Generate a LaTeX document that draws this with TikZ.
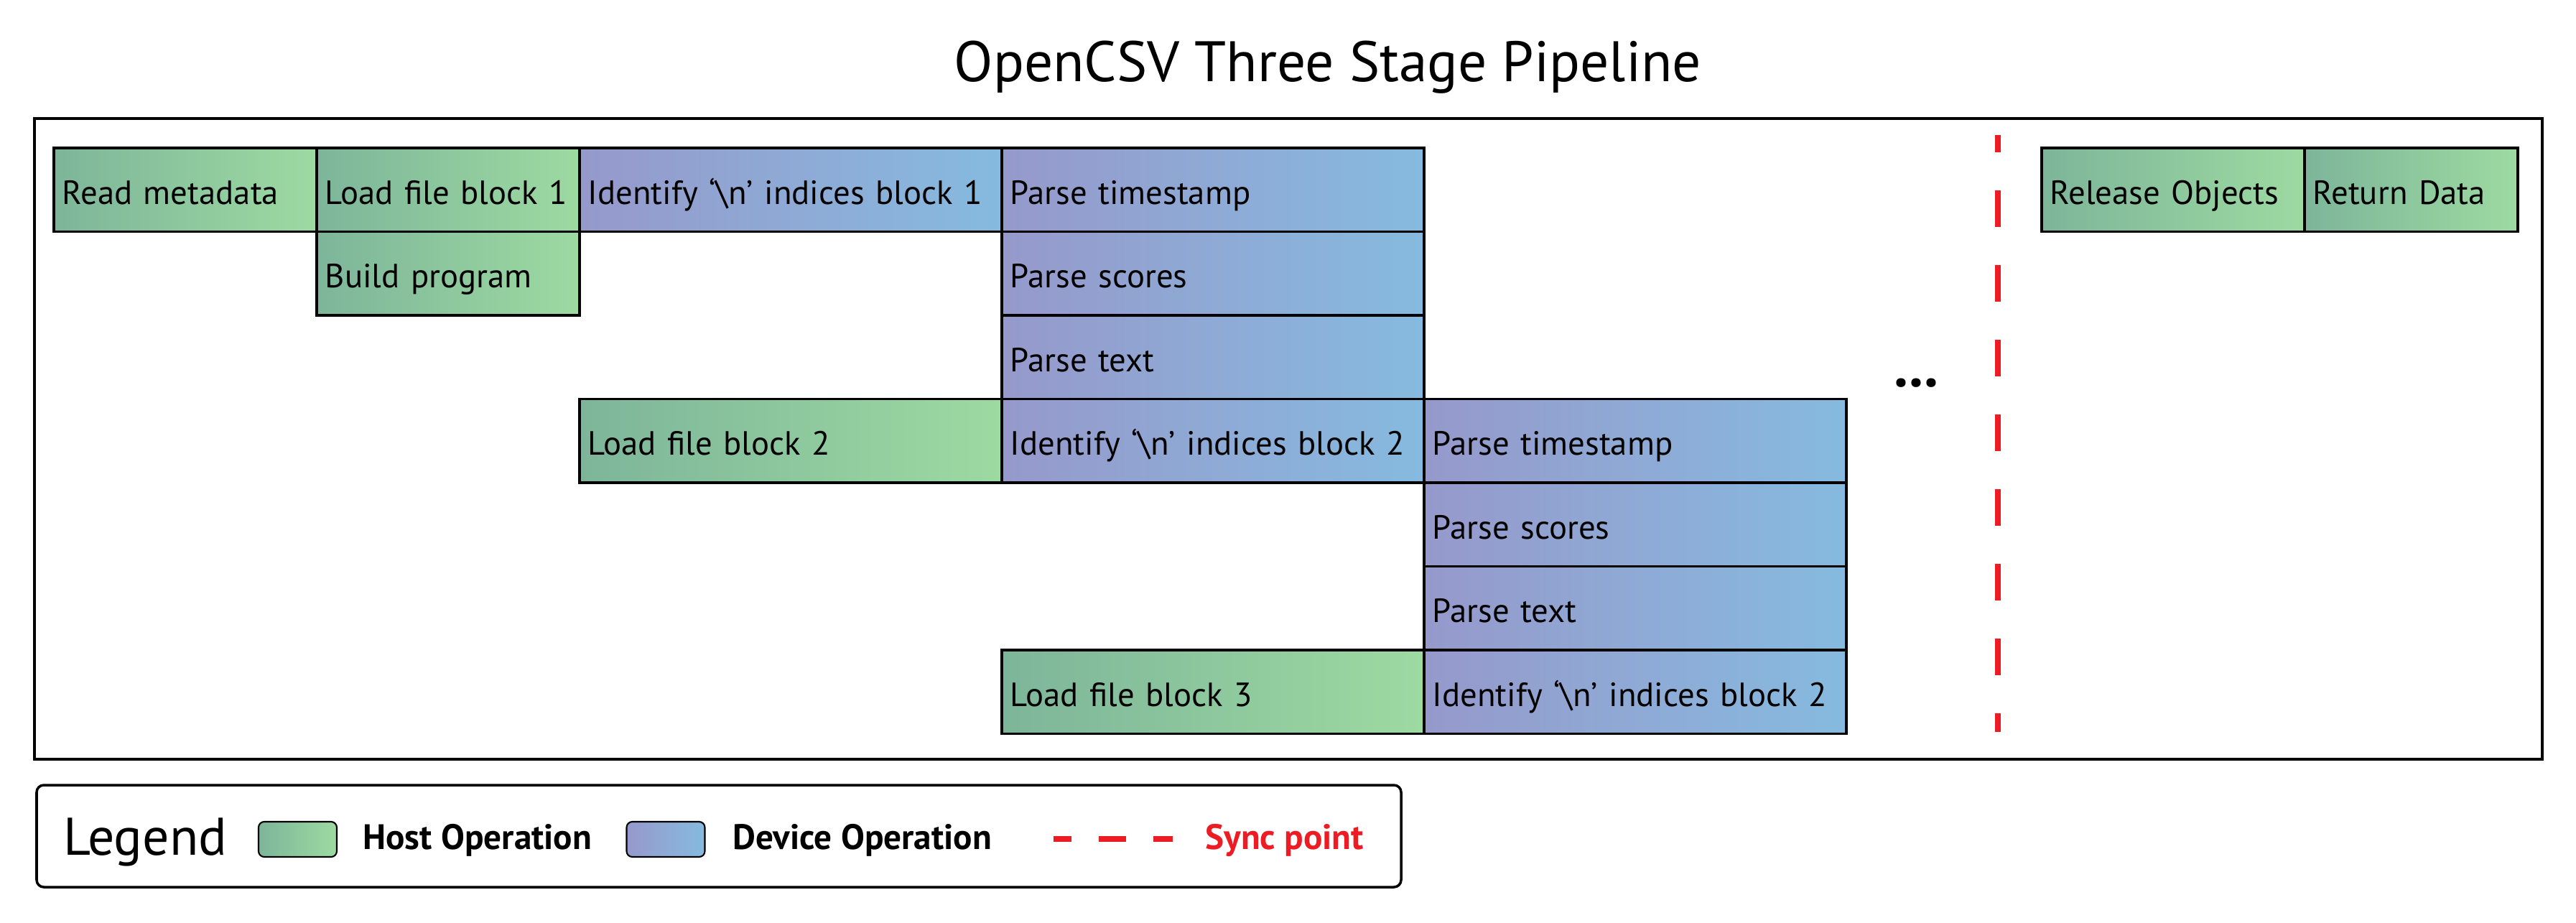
\documentclass[tikz,border=0pt]{standalone}
\usepackage{fontspec}
\setmainfont{PT Sans}
\usepackage{xcolor}

\definecolor{hostL}{HTML}{7DB59A}
\definecolor{hostR}{HTML}{9DDAA1}
\definecolor{devL}{HTML}{9699CB}
\definecolor{devR}{HTML}{86BADF}
\definecolor{syncred}{HTML}{ED1C24}

\tikzset{
  opbox/.style={draw, line width=1pt, anchor=north west, minimum height=1.165cm,
    inner xsep=0.12cm, inner ysep=0pt, text height=11.4pt, text depth=0pt,
    font=\fontsize{13.3}{15}\selectfont},
  hostop/.style={opbox, left color=hostL, right color=hostR, text width=#1},
  devop/.style={opbox, left color=devL, right color=devR, text width=#1},
  swatch/.style={draw, line width=0.6pt, rounded corners=0.08cm, minimum width=1.09cm,
    minimum height=0.49cm, inner sep=0pt},
  legtext/.style={anchor=base west, font=\fontsize{14}{16}\selectfont\bfseries},
  syncline/.style={draw=syncred, line width=2.3pt},
}

\begin{document}
\begin{tikzpicture}[x=1cm,y=1cm]
\useasboundingbox (0,0) rectangle (35.87,-12.84);

% title
\node[anchor=base, font=\fontsize{22.6}{26}\selectfont] (title) at (18.49,-1.13) {OpenCSV Three Stage Pipeline};

% pipeline frame
\draw[line width=1.1pt] (0.48,-1.65) rectangle (35.40,-10.57);

% stage rows
\node[hostop=3.42cm] (meta) at (0.73,-2.04) {Read metadata};
\node[hostop=3.42cm] (load1) at (4.39,-2.04) {Load file block 1};
\node[hostop=3.42cm] (build) at (4.39,-3.205) {Build program};
\node[devop=5.64cm] (ident1) at (8.05,-2.04) {Identify ‘\textbackslash n’ indices block 1};
\node[devop=5.64cm] (stamp1) at (13.93,-2.04) {Parse timestamp};
\node[devop=5.64cm] (score1) at (13.93,-3.205) {Parse scores};
\node[devop=5.64cm] (text1) at (13.93,-4.37) {Parse text};
\node[hostop=5.64cm] (load2) at (8.05,-5.535) {Load file block 2};
\node[devop=5.64cm] (ident2) at (13.93,-5.535) {Identify ‘\textbackslash n’ indices block 2};
\node[devop=5.64cm] (stamp2) at (19.81,-5.535) {Parse timestamp};
\node[devop=5.64cm] (score2) at (19.81,-6.70) {Parse scores};
\node[devop=5.64cm] (text2) at (19.81,-7.865) {Parse text};
\node[hostop=5.64cm] (load3) at (13.93,-9.03) {Load file block 3};
\node[devop=5.64cm] (ident3) at (19.81,-9.03) {Identify ‘\textbackslash n’ indices block 2};

\node[font=\fontsize{23}{26}\selectfont\bfseries] (more) at (26.68,-5.33) {...};

% sync point
\coordinate (synctop) at (27.82,-1.88);
\coordinate (syncbot) at (27.82,-10.19);
\draw[syncline, dash pattern=on 0.51cm off 0.53cm, dash phase=0.27cm] (synctop) -- (syncbot);

\node[hostop=3.42cm] (release) at (28.41,-2.04) {Release Objects};
\node[hostop=2.73cm] (return) at (32.07,-2.04) {Return Data};

% legend
\draw[line width=1pt, rounded corners=0.1cm] (0.51,-10.93) rectangle (19.51,-12.35);
\node[anchor=base west, font=\fontsize{21}{24}\selectfont] (legend) at (0.76,-11.90) {Legend};
\node[swatch, left color=hostL, right color=hostR] (hostkey) at (4.145,-11.685) {};
\node[legtext] (hostlbl) at (4.93,-11.82) {Host Operation};
\node[swatch, left color=devL, right color=devR] (devkey) at (9.27,-11.685) {};
\node[legtext] (devlbl) at (10.08,-11.82) {Device Operation};
\coordinate (keya) at (14.67,-11.68);
\coordinate (keyb) at (16.33,-11.68);
\draw[syncline, line width=2.2pt, dash pattern=on 0.38cm off 0.38cm, dash phase=0.13cm] (keya) -- (keyb);
\node[legtext, text=syncred] (synclbl) at (16.66,-11.82) {Sync point};
\end{tikzpicture}
\end{document}
